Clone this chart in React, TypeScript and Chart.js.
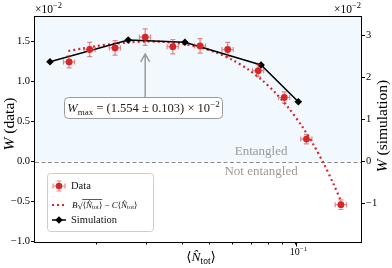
import React, { useEffect, useRef } from 'react';
import { Chart, registerables } from 'chart.js';
Chart.register(...registerables);

const SERIF = "'Liberation Serif', 'DejaVu Serif', serif";

// Data (W in units of 1e-2)
const nData = [0.0161, 0.0190, 0.0233, 0.0297, 0.0371, 0.0462, 0.0577, 0.0738, 0.0910, 0.1088, 0.1436];
const wData = [1.245, 1.40, 1.42, 1.554, 1.435, 1.445, 1.40, 1.135, 0.80, 0.28, -0.54];
const wErr = [0.075, 0.09, 0.09, 0.103, 0.09, 0.09, 0.09, 0.075, 0.07, 0.06, 0.06];
const nErr = [0.00072, 0.00086, 0.00105, 0.00133, 0.00167, 0.00208, 0.0026, 0.00332, 0.0041, 0.0049, 0.0065];

// Fit curve B*sqrt(N) - C*N
const nFit = [0.016, 0.018, 0.02, 0.023, 0.026, 0.03, 0.034, 0.04, 0.046, 0.053, 0.06, 0.068, 0.076, 0.085, 0.095, 0.105, 0.115, 0.125, 0.135, 0.1436];
const wFit = [1.381, 1.415, 1.442, 1.471, 1.489, 1.500, 1.496, 1.472, 1.428, 1.358, 1.270, 1.152, 1.019, 0.854, 0.654, 0.440, 0.213, -0.025, -0.273, -0.493];

// Simulation (right axis, units of 1e-2)
const nSim = [0.0138, 0.0259, 0.0409, 0.0755, 0.1019];
const wSim = [2.376, 2.893, 2.838, 2.298, 1.424];

const xTicks = [0.02, 0.03, 0.04, 0.05, 0.06, 0.07, 0.08, 0.09, 0.1];
const yTicks = [-1.0, -0.5, 0.0, 0.5, 1.0, 1.5];
const y2Ticks = [-1, 0, 1, 2, 3];

const RED = '#d62728';
const RED_ERR = 'rgba(214,39,40,0.55)';

type Part = { t: string; font: string; dy?: number };
function richWidth(ctx: CanvasRenderingContext2D, parts: Part[]) {
  let w = 0;
  for (const p of parts) { ctx.font = p.font; w += ctx.measureText(p.t).width; }
  return w;
}
function drawRich(ctx: CanvasRenderingContext2D, parts: Part[], x: number, y: number, align: 'left' | 'center' | 'right' = 'left') {
  const total = richWidth(ctx, parts);
  let cx = align === 'center' ? x - total / 2 : align === 'right' ? x - total : x;
  ctx.textAlign = 'left';
  const pos: number[] = [];
  for (const p of parts) {
    ctx.font = p.font;
    pos.push(cx);
    ctx.fillText(p.t, cx, y + (p.dy || 0));
    cx += ctx.measureText(p.t).width;
  }
  pos.push(cx);
  return pos;
}
const f = (size: number, italic = false) => `${italic ? 'italic ' : ''}${size}px ${SERIF}`;

const deco = {
  id: 'deco',
  beforeDatasetsDraw(chart: any) {
    const { ctx, chartArea: a, scales } = chart;
    const y0 = scales.y.getPixelForValue(0);
    ctx.save();
    ctx.fillStyle = '#f1f8fe';
    ctx.fillRect(a.left, a.top, a.right - a.left, y0 - a.top);
    ctx.strokeStyle = '#8a8a8a';
    ctx.lineWidth = 1;
    ctx.setLineDash([4, 2.5]);
    ctx.beginPath();
    ctx.moveTo(a.left, Math.round(y0) + 0.5);
    ctx.lineTo(a.right, Math.round(y0) + 0.5);
    ctx.stroke();
    ctx.setLineDash([]);
    ctx.fillStyle = '#9a9a9a';
    ctx.textBaseline = 'middle';
    ctx.textAlign = 'center';
    ctx.font = f(13);
    const xt = scales.x.getPixelForValue(0.0755);
    ctx.fillText('Entangled', xt, y0 - 10);
    ctx.fillText('Not entangled', xt, y0 + 10);
    ctx.restore();
  },
  beforeDatasetDraw(chart: any, args: any) {
    if (args.index !== 0) return;
    const { ctx, scales } = chart;
    const xs = scales.x, ys = scales.y;
    ctx.save();
    ctx.strokeStyle = RED_ERR;
    ctx.lineWidth = 1.2;
    for (let i = 0; i < nData.length; i++) {
      const px = xs.getPixelForValue(nData[i]);
      const py = ys.getPixelForValue(wData[i]);
      const x1 = xs.getPixelForValue(nData[i] - nErr[i]);
      const x2 = xs.getPixelForValue(nData[i] + nErr[i]);
      const y1 = ys.getPixelForValue(wData[i] - wErr[i]);
      const y2 = ys.getPixelForValue(wData[i] + wErr[i]);
      const c = 2.5;
      ctx.beginPath();
      ctx.moveTo(x1, py); ctx.lineTo(x2, py);
      ctx.moveTo(x1, py - c); ctx.lineTo(x1, py + c);
      ctx.moveTo(x2, py - c); ctx.lineTo(x2, py + c);
      ctx.moveTo(px, y1); ctx.lineTo(px, y2);
      ctx.moveTo(px - c, y1); ctx.lineTo(px + c, y1);
      ctx.moveTo(px - c, y2); ctx.lineTo(px + c, y2);
      ctx.stroke();
    }
    ctx.restore();
  },
  afterDatasetsDraw(chart: any) {
    const { ctx, scales } = chart;
    ctx.save();
    // arrow to maximum
    const imax = wData.indexOf(Math.max(...wData));
    const ax = scales.x.getPixelForValue(nData[imax]);
    const tipY = scales.y.getPixelForValue(wData[imax] + wErr[imax]) + 25;
    ctx.strokeStyle = '#9a9a9a';
    ctx.lineWidth = 1.5;
    ctx.beginPath();
    ctx.moveTo(ax, 98); ctx.lineTo(ax, tipY + 1);
    ctx.moveTo(ax - 4.5, tipY + 8); ctx.lineTo(ax, tipY); ctx.lineTo(ax + 4.5, tipY + 8);
    ctx.stroke();
    // annotation box
    ctx.fillStyle = '#ffffff';
    ctx.strokeStyle = '#999999';
    ctx.lineWidth = 1;
    ctx.beginPath();
    (ctx as any).roundRect(64.5, 97.5, 158, 21, 4);
    ctx.fill(); ctx.stroke();
    ctx.fillStyle = '#222';
    ctx.textBaseline = 'alphabetic';
    drawRich(ctx, [
      { t: 'W', font: f(12.5, true) },
      { t: 'max', font: f(9), dy: 2.5 },
      { t: ' = (1.554 \u00b1 0.103) \u00d7 10', font: f(12.5) },
      { t: '\u22122', font: f(9), dy: -5 },
    ], 143.5, 112, 'center');

    // legend
    ctx.fillStyle = 'rgba(255,255,255,0.85)';
    ctx.strokeStyle = '#cccccc';
    ctx.beginPath();
    (ctx as any).roundRect(47.5, 173.5, 106, 58, 3);
    ctx.fill(); ctx.stroke();
    // Data entry
    const ly1 = 186, ly2 = 205, ly3 = 220, lx = 59;
    ctx.strokeStyle = RED_ERR; ctx.lineWidth = 1.2;
    ctx.beginPath();
    ctx.moveTo(lx - 6, ly1); ctx.lineTo(lx + 6, ly1);
    ctx.moveTo(lx - 6, ly1 - 2.5); ctx.lineTo(lx - 6, ly1 + 2.5);
    ctx.moveTo(lx + 6, ly1 - 2.5); ctx.lineTo(lx + 6, ly1 + 2.5);
    ctx.moveTo(lx, ly1 - 5); ctx.lineTo(lx, ly1 + 5);
    ctx.moveTo(lx - 2.5, ly1 - 5); ctx.lineTo(lx + 2.5, ly1 - 5);
    ctx.moveTo(lx - 2.5, ly1 + 5); ctx.lineTo(lx + 2.5, ly1 + 5);
    ctx.stroke();
    ctx.fillStyle = RED;
    ctx.beginPath(); ctx.arc(lx, ly1, 3.3, 0, Math.PI * 2); ctx.fill();
    // fit entry
    ctx.strokeStyle = RED; ctx.lineWidth = 2; ctx.setLineDash([2, 3]);
    ctx.beginPath(); ctx.moveTo(lx - 7, ly2); ctx.lineTo(lx + 8, ly2); ctx.stroke();
    ctx.setLineDash([]);
    // sim entry
    ctx.strokeStyle = '#000'; ctx.lineWidth = 1.5;
    ctx.beginPath(); ctx.moveTo(lx - 7, ly3); ctx.lineTo(lx + 7, ly3); ctx.stroke();
    ctx.fillStyle = '#000';
    ctx.beginPath(); ctx.moveTo(lx, ly3 - 3.8); ctx.lineTo(lx + 3.8, ly3); ctx.lineTo(lx, ly3 + 3.8); ctx.lineTo(lx - 3.8, ly3); ctx.closePath(); ctx.fill();
    // texts
    ctx.fillStyle = '#111';
    ctx.textBaseline = 'middle';
    ctx.textAlign = 'left';
    ctx.font = f(10.5);
    ctx.fillText('Data', 71, ly1);
    ctx.fillText('Simulation', 71, ly3);
    // formula
    const fy = ly2 + 1;
    const p1 = drawRich(ctx, [{ t: 'B', font: f(9, true) }, { t: '\u221a', font: f(9.5) }], 72, fy);
    const r0 = p1[2];
    const p2 = drawRich(ctx, [
      { t: '\u27e8', font: f(8.5) },
      { t: 'N\u0302', font: f(9, true) },
      { t: 'tot', font: f(6.5), dy: 1.5 },
      { t: '\u27e9', font: f(8.5) },
    ], r0, fy);
    const r1 = p2[p2.length - 1];
    ctx.strokeStyle = '#111'; ctx.lineWidth = 0.7;
    ctx.beginPath(); ctx.moveTo(r0 - 0.5, fy - 6.5); ctx.lineTo(r1, fy - 6.5); ctx.stroke();
    drawRich(ctx, [
      { t: ' \u2212 ', font: f(9) },
      { t: 'C', font: f(9, true) },
      { t: '\u27e8', font: f(8.5) },
      { t: 'N\u0302', font: f(9, true) },
      { t: 'tot', font: f(6.5), dy: 1.5 },
      { t: '\u27e9', font: f(8.5) },
    ], r1, fy);
    ctx.restore();
  },
  afterDraw(chart: any) {
    const { ctx, chartArea: a, scales } = chart;
    ctx.save();
    // frame
    ctx.strokeStyle = '#000';
    ctx.lineWidth = 1;
    ctx.strokeRect(Math.round(a.left) - 0.5, Math.round(a.top) + 0.5, Math.round(a.right - a.left) + 1, Math.round(a.bottom - a.top));
    // major x tick longer
    const xm = Math.round(scales.x.getPixelForValue(0.1)) + 0.5;
    ctx.beginPath(); ctx.moveTo(xm, a.bottom); ctx.lineTo(xm, a.bottom + 4.5); ctx.stroke();
    ctx.fillStyle = '#000';
    ctx.textBaseline = 'alphabetic';
    // x tick label 10^-1
    drawRich(ctx, [{ t: '10', font: f(10) }, { t: '\u22121', font: f(7), dy: -4 }], xm + 2, 255, 'center');
    // offset texts
    drawRich(ctx, [{ t: '\u00d710', font: f(11.5) }, { t: '\u22122', font: f(8.5), dy: -5 }], 35, 13, 'left');
    drawRich(ctx, [{ t: '\u00d710', font: f(11.5) }, { t: '\u22122', font: f(8.5), dy: -5 }], 361, 13, 'right');
    // x title
    ctx.textBaseline = 'alphabetic';
    drawRich(ctx, [
      { t: '\u27e8', font: f(13.5) },
      { t: 'N\u0302', font: f(13.5, true) },
      { t: 'tot', font: f(9.5), dy: 3 },
      { t: '\u27e9', font: f(13.5) },
    ], 201, 261, 'center');
    // y titles
    ctx.textBaseline = 'middle';
    ctx.save();
    ctx.translate(10, 124);
    ctx.rotate(-Math.PI / 2);
    drawRich(ctx, [{ t: 'W', font: f(15.5, true) }, { t: ' (data)', font: f(15.5) }], 0, 0, 'center');
    ctx.restore();
    ctx.save();
    ctx.translate(383, 126);
    ctx.rotate(-Math.PI / 2);
    drawRich(ctx, [{ t: 'W', font: f(15.5, true) }, { t: ' (simulation)', font: f(15.5) }], 0, 0, 'center');
    ctx.restore();
    ctx.restore();
  },
};

export default function App() {
  const ref = useRef<HTMLCanvasElement>(null);
  useEffect(() => {
    document.body.style.margin = '0';
    const canvas = ref.current!;
    const chart = new Chart(canvas, {
      type: 'scatter',
      data: {
        datasets: [
          {
            label: 'Data',
            data: nData.map((x, i) => ({ x, y: wData[i] })),
            yAxisID: 'y',
            showLine: false,
            pointRadius: 3.4,
            pointBackgroundColor: RED,
            pointBorderColor: RED,
            pointBorderWidth: 0,
            order: 0,
          },
          {
            label: 'fit',
            data: nFit.map((x, i) => ({ x, y: wFit[i] })),
            yAxisID: 'y',
            showLine: true,
            borderColor: RED,
            borderWidth: 2.2,
            borderDash: [2, 3],
            pointRadius: 0,
            tension: 0.3,
            order: 2,
          },
          {
            label: 'Simulation',
            data: nSim.map((x, i) => ({ x, y: wSim[i] })),
            yAxisID: 'y2',
            showLine: true,
            borderColor: '#000',
            borderWidth: 1.5,
            pointStyle: 'rectRot',
            pointRadius: 3.8,
            pointBackgroundColor: '#000',
            pointBorderColor: '#000',
            pointBorderWidth: 0,
            order: 1,
          },
        ],
      },
      options: {
        animation: false,
        responsive: false,
        devicePixelRatio: 1,
        layout: { padding: { top: 16, left: 0, right: 0, bottom: 0 } },
        plugins: { legend: { display: false }, tooltip: { enabled: false } },
        scales: {
          x: {
            type: 'logarithmic',
            position: 'bottom',
            min: 0.01223,
            max: 0.1688,
            afterBuildTicks: (s: any) => { s.ticks = xTicks.map((v) => ({ value: v })); },
            afterFit: (s: any) => { s.height = 26; },
            ticks: { callback: () => '', autoSkip: false, font: { family: SERIF, size: 10 } },
            grid: { display: true, drawOnChartArea: false, drawTicks: true, tickLength: 2.5, color: '#000', lineWidth: 1 },
            border: { display: false },
          },
          y: {
            type: 'linear',
            position: 'left',
            min: -1.006,
            max: 1.819,
            afterBuildTicks: (s: any) => { s.ticks = yTicks.map((v) => ({ value: v })); },
            afterFit: (s: any) => { s.width = 35; },
            ticks: {
              callback: (v: any) => (Number(v) < 0 ? '\u2212' : '') + Math.abs(Number(v)).toFixed(1),
              color: '#000',
              padding: 1,
              autoSkip: false,
              font: { family: SERIF, size: 10.5 },
            },
            grid: { display: true, drawOnChartArea: false, drawTicks: true, tickLength: 4, color: '#000', lineWidth: 1 },
            border: { display: false },
          },
          y2: {
            type: 'linear',
            position: 'right',
            min: -1.917,
            max: 3.464,
            afterBuildTicks: (s: any) => { s.ticks = y2Ticks.map((v) => ({ value: v })); },
            afterFit: (s: any) => { s.width = 31; },
            ticks: {
              callback: (v: any) => (Number(v) < 0 ? '\u2212' : '') + Math.abs(Number(v)).toFixed(0),
              color: '#000',
              padding: 1,
              autoSkip: false,
              font: { family: SERIF, size: 10.5 },
            },
            grid: { display: true, drawOnChartArea: false, drawTicks: true, tickLength: 4, color: '#000', lineWidth: 1 },
            border: { display: false },
          },
        },
      },
      plugins: [deco],
    } as any);
    return () => chart.destroy();
  }, []);
  return (
    <div style={{ position: 'absolute', left: 0, top: 0, width: 392, height: 268 }}>
      <canvas ref={ref} width={392} height={268} style={{ width: 392, height: 268, display: 'block' }} />
    </div>
  );
}
